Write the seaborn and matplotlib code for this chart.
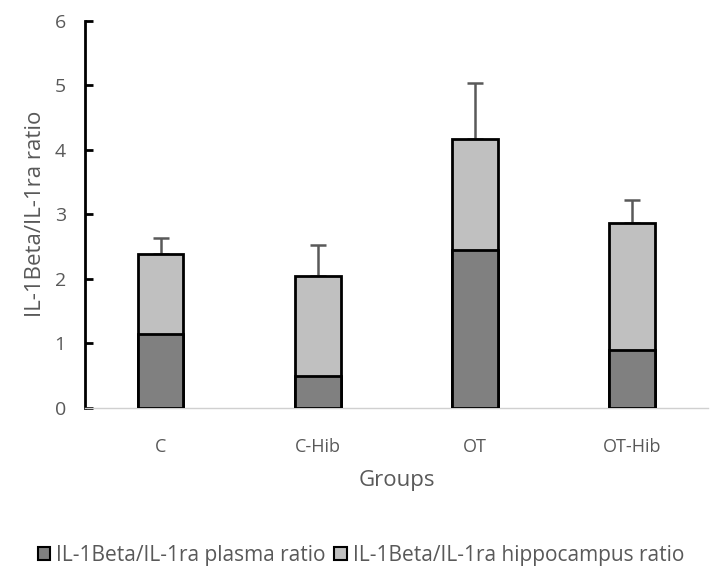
import matplotlib
matplotlib.use("Agg")
import matplotlib.pyplot as plt
import seaborn as sns
import pandas as pd
import numpy as np
from matplotlib.patches import Patch

groups = ["C", "C-Hib", "OT", "OT-Hib"]
plasma = [1.15, 0.49, 2.44, 0.89]
hippocampus = [1.23, 1.56, 1.73, 1.98]
err_upper = [0.26, 0.47, 0.87, 0.35]
yticks = [0, 1, 2, 3, 4, 5, 6]
series_names = ["IL-1Beta/IL-1ra plasma ratio", "IL-1Beta/IL-1ra hippocampus ratio"]

sns.set_style("white")
plt.rcParams['font.family'] = ['Open Sans', 'DejaVu Sans']

total = [p + h for p, h in zip(plasma, hippocampus)]
df = pd.DataFrame({"group": groups, "plasma": plasma, "total": total})

fig = plt.figure(figsize=(7.22, 5.8), dpi=100)
ax = fig.add_axes([0.118, 0.297, 0.862, 0.667])

dark = "#808080"
light = "#c0c0c0"
txt = "#595959"

sns.barplot(data=df, x="group", y="total", color=light, edgecolor="black",
            linewidth=2, width=0.29, saturation=1, ax=ax, zorder=2)
sns.barplot(data=df, x="group", y="plasma", color=dark, edgecolor="black",
            linewidth=2, width=0.29, saturation=1, ax=ax, zorder=3)

xpos = np.arange(len(groups))
ax.errorbar(xpos, total, yerr=[np.zeros(len(groups)), err_upper], fmt="none",
            ecolor=txt, elinewidth=1.8, capsize=6, capthick=1.8, zorder=1)

ax.set_xlim(-0.48, 3.48)
ax.set_ylim(0, 6)
ax.set_yticks(yticks)
ax.set_yticklabels([str(t) for t in yticks])

for s in ["top", "right"]:
    ax.spines[s].set_visible(False)
ax.spines["left"].set_color("black")
ax.spines["left"].set_linewidth(2)
ax.spines["bottom"].set_color("#d0d0d0")
ax.spines["bottom"].set_linewidth(1)

ax.tick_params(axis="y", left=True, direction="in", length=6, width=2, color="black",
               labelcolor=txt, labelsize=14, pad=14)
ax.tick_params(axis="x", bottom=False, length=0, labelcolor=txt, labelsize=13, pad=22)

ax.set_xlabel("Groups", fontsize=16, color=txt, labelpad=10)
ax.set_ylabel("IL-1Beta/IL-1ra ratio", fontsize=16, color=txt, labelpad=6)

handles = [Patch(facecolor=dark, edgecolor="black", linewidth=1.5, label=series_names[0]),
           Patch(facecolor=light, edgecolor="black", linewidth=1.5, label=series_names[1])]
fig.legend(handles=handles, loc="center", bbox_to_anchor=(0.5, 0.043), ncol=2,
           frameon=False, fontsize=15, labelcolor=txt, handlelength=0.6,
           handleheight=0.6, handletextpad=0.3, columnspacing=0.4)

fig.savefig("out.png", dpi=100)
